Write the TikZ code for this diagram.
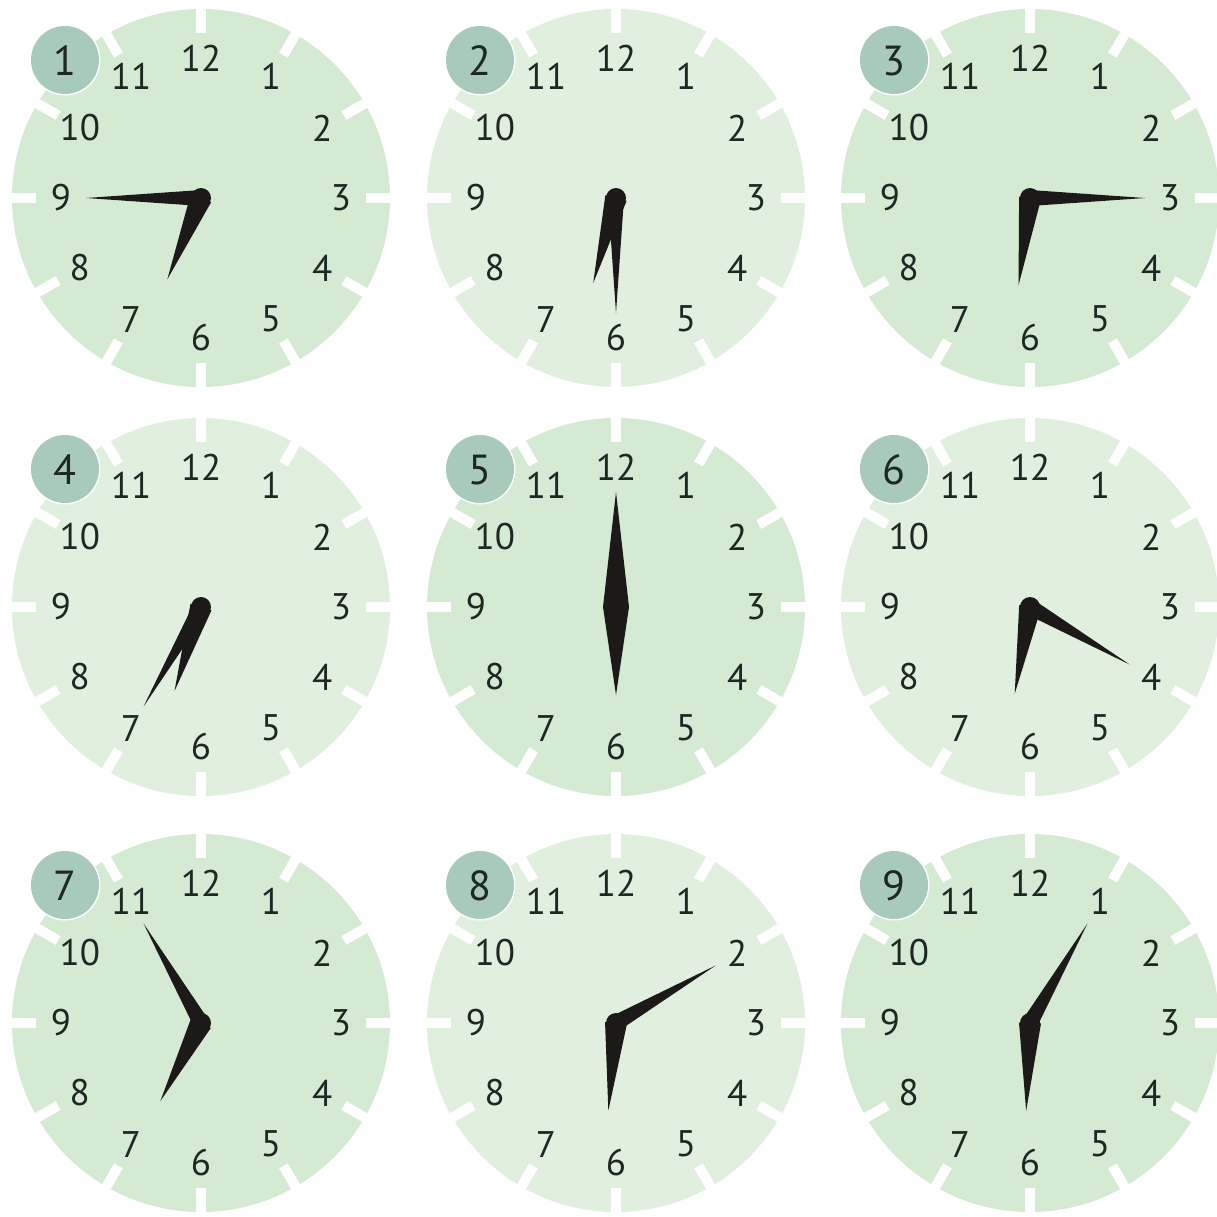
\documentclass[tikz,border=0pt]{standalone}
\usepackage{fontspec}
\setmainfont{PT Sans}
\definecolor{facedark}{RGB}{212,234,211}
\definecolor{facelight}{RGB}{225,239,223}
\definecolor{badgecol}{RGB}{168,202,187}
\definecolor{handcol}{RGB}{28,25,25}
\definecolor{numcol}{RGB}{30,40,35}
\tikzset{
  numlabel/.style={text=numcol, inner sep=0pt, font=\fontsize{37}{37}\selectfont},
  badgelabel/.style={text=numcol, inner sep=0pt, font=\fontsize{42}{42}\selectfont},
  notch/.style={fill=white},
  handfill/.style={fill=handcol},
  badgefill/.style={fill=badgecol}
}
% #1 id, #2 cx, #3 cy, #4 face colour, #5 minute angle, #6 hour angle, #7 minute half width, #8 hub radius, #9 hour half width
\newcommand{\myclock}[9]{%
\begin{scope}[shift={(#2,#3)}]
  \fill[#4] (0,0) circle (189);
  \foreach \a in {0,30,...,330}
    \fill[notch, rotate=\a] (-5,-165) rectangle (5,-196);
  \foreach \n in {1,...,12}
    \node[numlabel] (c#1n\n) at ({sin(30*\n)*140},{-cos(30*\n)*140}) {\n};
  \fill[handfill] ({115*sin(#5)},{-115*cos(#5)}) -- ({#7*cos(#5)},{#7*sin(#5)}) -- ({-#7*cos(#5)},{-#7*sin(#5)}) -- cycle;
  \fill[handfill] ({88*sin(#6)},{-88*cos(#6)}) -- ({#9*cos(#6)},{#9*sin(#6)}) -- ({-#9*cos(#6)},{-#9*sin(#6)}) -- cycle;
  \ifdim #8pt>0pt \fill[handfill] (0,0) circle (#8); \fi
  \fill[white] (-136,-138) circle (35.5);
  \fill[badgefill] (-136,-138) circle (34);
  \node[badgelabel] (b#1) at (-136,-137) {#1};
\end{scope}}
\begin{document}
\begin{tikzpicture}[x=1pt,y=-1pt]
\useasboundingbox (0,0) rectangle (1217,1216);
\fill[white] (0,0) rectangle (1217,1216);
\myclock{1}{201}{198}{facedark}{270}{202.5}{8}{10}{11}
\myclock{2}{616}{198}{facelight}{180}{195}{8}{10}{11}
\myclock{3}{1030}{198}{facedark}{90}{187.5}{8}{10}{11}
\myclock{4}{201}{607}{facelight}{210}{197.5}{8}{10}{11}
\myclock{5}{616}{607}{facedark}{0}{180}{13}{0}{13}
\myclock{6}{1030}{607}{facelight}{120}{190}{8}{10}{11}
\myclock{7}{201}{1023}{facedark}{330}{207.5}{8}{10}{11}
\myclock{8}{616}{1023}{facelight}{60}{185}{8}{10}{11}
\myclock{9}{1030}{1023}{facedark}{30}{182.5}{8}{10}{11}
\end{tikzpicture}
\end{document}
